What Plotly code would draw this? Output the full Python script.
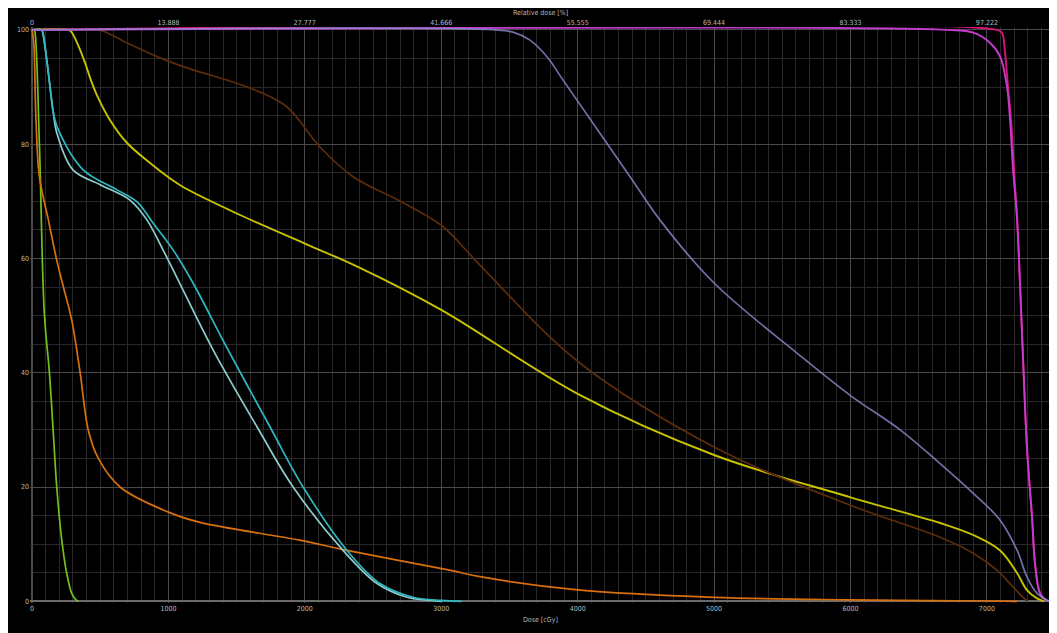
import plotly.graph_objects as go

# ---- data (dose in cGy, volume in %) ----
green_dose = [0, 15, 22, 54, 90, 127, 156, 181, 218, 254, 291, 320, 339]
green_vol = [100, 100, 99.5, 80, 50.4, 40.1, 29.4, 20, 10.7, 4.9, 1.4, 0.3, 0]

orange_dose = [0, 12, 29, 54, 120, 181, 230, 291, 352, 413, 486, 645, 1000, 1232, 1960, 2309, 3070, 3284, 4000, 5000, 6000, 7000, 7222]
orange_vol = [100, 98, 84.2, 74.3, 66.7, 59.7, 55, 49.2, 40.1, 29.9, 25, 20, 15.6, 13.8, 10.7, 8.9, 5.4, 4.3, 2.0, 0.7, 0.25, 0.05, 0]

cyan_pale_dose = [0, 70, 78, 108, 132, 156, 181, 300, 500, 718, 843, 960, 1063, 1327, 1650, 1914, 2280, 2529, 2749, 2900, 3000]
cyan_pale_vol = [100, 100, 99.5, 94.7, 90, 85.5, 82, 75.5, 72.9, 70.2, 66.7, 61.5, 56.6, 44, 30.5, 20, 8.9, 3.1, 0.7, 0.2, 0]

cyan_dose = [0, 70, 80, 108, 132, 156, 193, 375, 623, 770, 887, 1034, 1173, 1437, 1745, 1987, 2309, 2551, 2793, 3000, 3150]
cyan_vol = [100, 100, 99.5, 94.7, 90, 85.5, 82.5, 75.5, 72, 69.9, 66.2, 61.5, 56.0, 44, 30.5, 20, 8.9, 3.1, 0.7, 0.15, 0]

yellow_dose = [0, 270, 293, 340, 389, 430, 477, 572, 697, 865, 1012, 1107, 1525, 2000, 2400, 3000, 4000, 5000, 6000, 6657, 6900, 7097, 7222, 7295, 7368, 7420]
yellow_vol = [100, 100, 99.5, 97.2, 94.2, 91.3, 88.5, 84.2, 80.2, 76.7, 74, 72.5, 67.6, 62.6, 58.4, 51, 36.3, 25.6, 18.2, 13.7, 11.6, 8.9, 4.9, 1.9, 0.5, 0]

brown_dose = [0, 480, 520, 697, 938, 1180, 1430, 1672, 1870, 2111, 2353, 2700, 3000, 3285, 4000, 5000, 6000, 6657, 6900, 7075, 7192, 7265, 7300]
brown_vol = [100, 100, 99.8, 97.7, 95.1, 93, 91.2, 89.1, 86.5, 79.5, 74.3, 70, 65.8, 58.8, 42, 27, 16.8, 11.2, 8.4, 5.4, 2.5, 0.7, 0]

lavender_dose = [0, 3400, 3526, 3650, 3775, 3893, 4384, 4604, 5000, 5630, 6000, 6364, 6657, 6900, 7097, 7222, 7295, 7368, 7441, 7470]
lavender_vol = [100, 100, 99.6, 98.2, 95.3, 91.2, 74.3, 66.7, 55.7, 43, 36, 30, 24.1, 18.9, 14.2, 8.9, 4.2, 1.4, 0.2, 0]

purple_dose = [0, 6700, 6900, 7024, 7097, 7148, 7170, 7192, 7222, 7258, 7295, 7331, 7353, 7390, 7441]
purple_vol = [100, 100, 99.5, 97.7, 95.3, 90, 84.2, 75.5, 66.7, 46.6, 26.4, 14.7, 6.6, 1.4, 0]

crimson_dose = [0, 7075, 7111, 7133, 7155, 7177, 7199, 7222, 7258, 7295, 7331, 7353, 7390, 7441]
crimson_vol = [100, 100, 99.5, 96, 90, 84.2, 75.5, 66.7, 46.6, 26.4, 14.7, 6.6, 1.4, 0]

dose_ticks = [0, 1000, 2000, 3000, 4000, 5000, 6000, 7000]
rel_labels = ["0", "13.888", "27.777", "41.666", "55.555", "69.444", "83.333", "97.222"]
vol_ticks = [0, 20, 40, 60, 80, 100]

series = [
    (green_dose, green_vol, "#72c21a", 1.7, 1.0),
    (orange_dose, orange_vol, "#d9700f", 1.7, 1.0),
    (cyan_pale_dose, cyan_pale_vol, "#8fcccc", 1.7, 1.0),
    (cyan_dose, cyan_vol, "#2db9c2", 1.7, 1.0),
    (yellow_dose, yellow_vol, "#c9c200", 1.9, 1.0),
    (brown_dose, brown_vol, "#5c2c0a", 1.7, 1.0),
    (crimson_dose, crimson_vol, "#d8147a", 1.9, 1.0),
    (purple_dose, purple_vol, "#c43ccc", 1.9, 1.0),
    (lavender_dose, lavender_vol, "#8f8bd0", 1.7, 0.8),
]

fig = go.Figure()
for d, v, c, w, op in series:
    fig.add_trace(go.Scatter(x=d, y=v, mode="lines", line=dict(color=c, width=w, shape="spline", smoothing=1.0),
                             opacity=op, showlegend=False, hoverinfo="skip"))

# dummy trace for top axis
fig.add_trace(go.Scatter(x=[0], y=[0], xaxis="x2", mode="markers", marker=dict(opacity=0), showlegend=False, hoverinfo="skip"))

tickfont = dict(family="Liberation Sans Narrow, DejaVu Sans Condensed, sans-serif", size=7, color="#b8b8b8")
xr = [-15, 7470]

fig.update_layout(
    template="none",
    width=1049, height=625,
    margin=dict(l=22, r=6, t=19, b=30, pad=0),
    paper_bgcolor="#000000", plot_bgcolor="#000000",
    xaxis=dict(range=xr, tickvals=dose_ticks, ticktext=[str(t) for t in dose_ticks], tickfont=tickfont,
               automargin=False,
               showgrid=True, gridcolor="#4a4a4a", gridwidth=1, zeroline=False, ticks="", ticklen=0,
               showline=False,
               minor=dict(dtick=100, tick0=0, showgrid=True, gridcolor="#282828", gridwidth=1)),
    xaxis2=dict(range=xr, overlaying="x", side="top", tickvals=dose_ticks, ticktext=rel_labels, tickfont=tickfont,
                automargin=False,
                showgrid=False, zeroline=False, ticks="", showline=False),
    yaxis=dict(range=[-0.3, 100.5], tickvals=vol_ticks, ticktext=[str(t) for t in vol_ticks], tickfont=tickfont,
               automargin=False,
               showgrid=True, gridcolor="#4a4a4a", gridwidth=1, zeroline=True, zerolinecolor="#6a6a6a", zerolinewidth=1.5,
               ticks="", showline=False,
               minor=dict(dtick=5, tick0=0, showgrid=True, gridcolor="#282828", gridwidth=1)),
    shapes=[
        dict(type="line", xref="x", yref="paper", x0=0, x1=0, y0=0, y1=1, line=dict(color="#6a6a6a", width=1.5), layer="below"),
    ],
    annotations=[
        dict(text="Relative dose [%]", xref="paper", yref="paper", x=0.5, y=1.0, yshift=14, showarrow=False,
             font=tickfont, xanchor="center", yanchor="middle"),
        dict(text="Dose [cGy]", xref="paper", yref="paper", x=0.5, y=0, yshift=-17, showarrow=False,
             font=tickfont, xanchor="center", yanchor="middle"),
    ],
)

fig.write_html("out.html")
